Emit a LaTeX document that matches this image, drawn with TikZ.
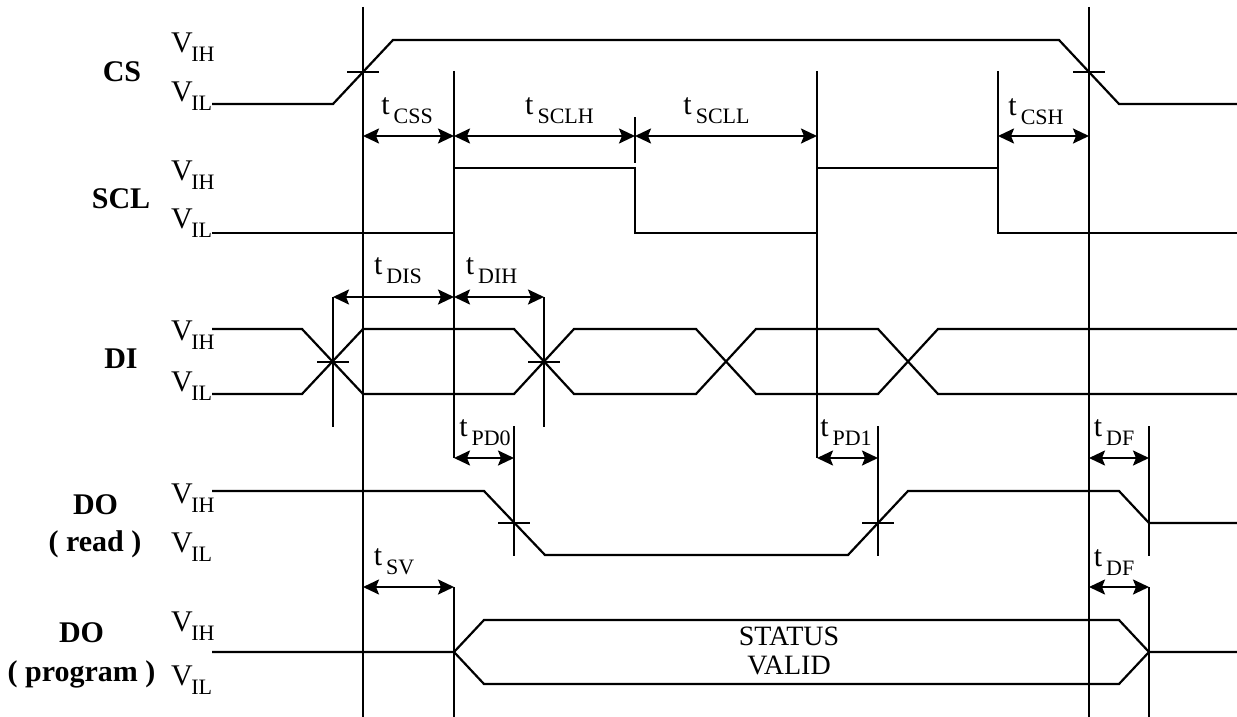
\documentclass[tikz,border=0pt]{standalone}
\usepackage{fontspec}
\setmainfont{Liberation Serif}
\usetikzlibrary{arrows.meta}

\newcommand{\subsz}{\fontsize{22}{22}\selectfont}
\newcommand{\vlev}[1]{V\kern-1.5pt\raisebox{-9pt}{\subsz #1}}
\newcommand{\tpar}[1]{t\hspace{4pt}\raisebox{-9pt}{\subsz #1}}

\tikzset{
    wave/.style={line width=2.2pt},
    marker/.style={line width=2.2pt},
    dim/.style={line width=2.2pt, {Stealth[length=16pt,width=15pt,inset=3pt]}-{Stealth[length=16pt,width=15pt,inset=3pt]}},
    sig/.style={font=\fontsize{30}{30}\selectfont\bfseries, inner sep=0pt},
    lev/.style={font=\fontsize{30}{30}\selectfont, inner sep=0pt, anchor=west},
    tlabel/.style={font=\fontsize{30}{30}\selectfont, inner sep=0pt},
}

\begin{document}
\begin{tikzpicture}[x=1pt, y=-1pt]
    \useasboundingbox (0,0) rectangle (1237,717);

    \node[sig] (cs)   at (122,72)    {CS};
    \node[sig] (scl)  at (121,199)   {SCL};
    \node[sig] (di)   at (121,359)   {DI};
    \node[sig] (dor)  at (95.5,505)  {DO};
    \node[sig] (dorx) at (95,544)    {( read )};
    \node[sig] (dop)  at (81.5,633)  {DO};
    \node[sig] (dopx) at (81.5,674.5) {( program )};

    \node[lev] (csh)  at (171,47)    {\vlev{IH}};
    \node[lev] (csl)  at (171,96.5)  {\vlev{IL}};
    \node[lev] (sclh) at (171,175)   {\vlev{IH}};
    \node[lev] (scll) at (171,223.5) {\vlev{IL}};
    \node[lev] (dih)  at (171,335)   {\vlev{IH}};
    \node[lev] (dil)  at (171,386)   {\vlev{IL}};
    \node[lev] (dorh) at (171,498)   {\vlev{IH}};
    \node[lev] (dorl) at (171,547)   {\vlev{IL}};
    \node[lev] (doph) at (171,626)   {\vlev{IH}};
    \node[lev] (dopl) at (171,680)   {\vlev{IL}};

    \draw[wave] (212,104) -- (333,104) -- (393,40) -- (1059,40) -- (1119,104) -- (1237,104);
    \draw[wave] (212,233) -- (454,233) -- (454,168) -- (635,168) -- (635,233) -- (817,233)
        -- (817,168) -- (998,168) -- (998,233) -- (1237,233);
    \draw[wave] (212,329) -- (302,329) -- (363,394) -- (514,394) -- (574,329) -- (696,329)
        -- (756,394) -- (878,394) -- (938,329) -- (1237,329);
    \draw[wave] (212,394) -- (302,394) -- (363,329) -- (514,329) -- (574,394) -- (696,394)
        -- (756,329) -- (878,329) -- (938,394) -- (1237,394);
    \draw[wave] (212,491) -- (484,491) -- (545,555) -- (848,555) -- (908,491) -- (1119,491)
        -- (1149,523) -- (1237,523);
    \draw[wave] (212,652) -- (454,652) -- (484,620) -- (1119,620) -- (1149,652) -- (1237,652);
    \draw[wave] (454,652) -- (484,684) -- (1119,684) -- (1149,652);

    \draw[marker] (363,7) -- (363,717);
    \draw[marker] (1089,7) -- (1089,717);
    \draw[marker] (454,71) -- (454,458);
    \draw[marker] (454,587) -- (454,717);
    \draw[marker] (817,71) -- (817,458);
    \draw[marker] (635,117) -- (635,163);
    \draw[marker] (998,71) -- (998,168);
    \draw[marker] (333,297) -- (333,427);
    \draw[marker] (544,297) -- (544,427);
    \draw[marker] (514,426) -- (514,556);
    \draw[marker] (878,426) -- (878,556);
    \draw[marker] (1149,426) -- (1149,556);
    \draw[marker] (1149,587) -- (1149,717);
    \foreach \x/\y in {363/72, 1089/72, 333/362, 544/362, 514/523, 878/523}
        \draw[marker] ({\x-16},\y) -- ({\x+16},\y);

    \draw[dim] (363,136) -- (454,136);
    \draw[dim] (454,136) -- (635,136);
    \draw[dim] (635,136) -- (817,136);
    \draw[dim] (998,136) -- (1089,136);
    \draw[dim] (333,297) -- (454,297);
    \draw[dim] (454,297) -- (544,297);
    \draw[dim] (454,458) -- (514,458);
    \draw[dim] (817,458) -- (878,458);
    \draw[dim] (1089,458) -- (1149,458);
    \draw[dim] (363,587) -- (454,587);
    \draw[dim] (1089,587) -- (1149,587);

    \node[tlabel] (tcss)  at (407,111)    {\tpar{CSS}};
    \node[tlabel] (tsclh) at (559.5,111)  {\tpar{SCLH}};
    \node[tlabel] (tscll) at (716.5,111)  {\tpar{SCLL}};
    \node[tlabel] (tcsh)  at (1036,112)   {\tpar{CSH}};
    \node[tlabel] (tdis)  at (398,271)    {\tpar{DIS}};
    \node[tlabel] (tdih)  at (491.5,271)  {\tpar{DIH}};
    \node[tlabel] (tpd0)  at (485,432.5)  {\tpar{PD0}};
    \node[tlabel] (tpd1)  at (846,432.5)  {\tpar{PD1}};
    \node[tlabel] (tdfa)  at (1114,432.5) {\tpar{DF}};
    \node[tlabel] (tsv)   at (394,561.5)  {\tpar{SV}};
    \node[tlabel] (tdfb)  at (1114,563)   {\tpar{DF}};

    \node[font=\fontsize{28}{29}\selectfont, align=center, inner sep=0pt] (status) at (789,651) {STATUS\\VALID};
\end{tikzpicture}
\end{document}
